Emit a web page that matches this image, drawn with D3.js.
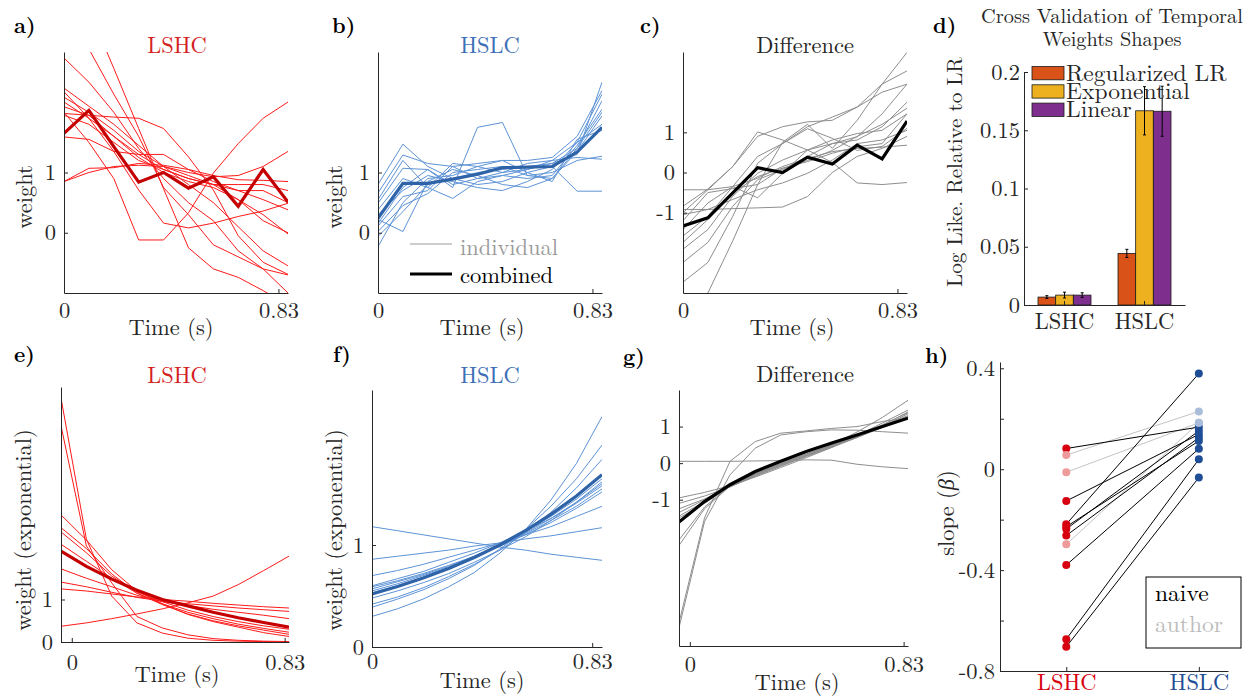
<!DOCTYPE html>
<html>
<head>
<meta charset="utf-8">
<script src="https://cdn.jsdelivr.net/npm/d3@7"></script>
<style>
  body { margin: 0; background: #fff; }
</style>
</head>
<body>
<script>
// time bins (s) for the weight panels
var timesTop = [0, 0.0963, 0.1927, 0.289, 0.3853, 0.4817, 0.578, 0.6743, 0.7707, 0.867];
var timesBottom = [-0.042, 0.057, 0.156, 0.254, 0.353, 0.452, 0.551, 0.649, 0.748, 0.847];

// a) LSHC regularized weights
var lshcWeights = [
  [2.9, 2.5, 2.0, 1.4, 0.9, 0.5, 0.2, -0.3, -0.6, -1.0],
  [3.6, 3.05, 2.3, 1.6, 0.75, 0.3, -0.2, -0.4, -0.6, -0.7],
  [4.5, 3.7, 2.73, 1.73, 0.73, -0.25, -0.6, -0.74, -0.96, -1.2],
  [2.0, 1.5, 0.9, -0.12, -0.12, 0.33, 0.99, 1.48, 1.9, 2.17],
  [0.85, 1.0, 1.1, 1.12, 1.1, 1.0, 0.93, 0.95, 1.1, 1.35],
  [0.85, 1.07, 1.08, 1.15, 1.12, 1.05, 0.95, 0.88, 0.87, 0.85],
  [2.34, 1.9, 1.35, 0.71, 0.16, 0.08, 0.16, 0.27, 0.36, 0.49],
  [1.98, 1.95, 1.92, 1.9, 1.73, 1.26, 0.71, -0.05, -0.49, -0.69],
  [2.25, 2.0, 1.7, 1.35, 1.1, 0.95, 0.8, 0.55, 0.2, 0.0],
  [2.17, 1.9, 1.6, 1.3, 1.05, 0.9, 0.8, 0.7, 0.55, 0.38],
  [2.09, 1.95, 1.6, 1.25, 1.0, 0.85, 0.75, 0.55, 0.3, -0.02],
  [1.59, 1.55, 1.35, 1.3, 1.3, 1.05, 0.85, 0.7, 0.7, 0.5],
  [2.4, 2.1, 1.8, 1.45, 1.1, 0.8, 0.5, 0.1, -0.3, -0.55],
  [1.95, 1.8, 1.5, 1.2, 1.05, 0.9, 0.8, 0.8, 0.8, 0.7]
];
var lshcCombined = [1.65, 2.03, 1.43, 0.84, 1.0, 0.74, 0.93, 0.44, 1.05, 0.51];

// b) HSLC regularized weights
var hslcWeights = [
  [0.8, 1.47, 1.1, 0.9, 1.0, 1.05, 1.1, 1.15, 1.3, 2.5],
  [0.66, 1.29, 1.15, 1.1, 1.15, 1.2, 1.2, 1.25, 1.6, 2.36],
  [0.49, 1.07, 1.05, 0.75, 1.75, 1.83, 0.95, 0.9, 1.4, 2.19],
  [0.38, 0.9, 0.75, 0.57, 0.85, 0.95, 0.9, 0.95, 1.45, 2.05],
  [0.22, 0.02, 0.85, 1.05, 0.95, 0.8, 0.75, 0.9, 1.35, 1.94],
  [0.11, 0.6, 0.7, 1.1, 0.9, 1.0, 1.05, 1.2, 1.5, 1.8],
  [0.02, 0.45, 0.65, 1.0, 1.05, 1.1, 0.95, 1.0, 1.2, 1.27],
  [-0.06, 0.35, 0.8, 0.9, 0.8, 0.85, 1.0, 1.1, 0.69, 0.69],
  [-0.23, 0.5, 0.9, 0.95, 1.1, 1.0, 1.15, 1.2, 1.25, 1.22],
  [0.3, 0.7, 0.95, 0.85, 0.75, 0.7, 0.85, 1.05, 1.5, 2.3],
  [0.55, 1.2, 0.75, 1.15, 1.1, 1.2, 1.0, 0.85, 1.55, 1.7],
  [0.15, 0.75, 1.05, 0.8, 0.9, 0.95, 1.05, 1.15, 1.4, 2.0]
];
var hslcCombined = [0.24, 0.82, 0.82, 0.89, 0.97, 1.08, 1.09, 1.10, 1.34, 1.75];

// c) difference HSLC - LSHC
var diffWeights = [
  [-0.84, -0.41, 0.15, 1.01, 0.81, 0.56, 0.25, -0.26, -0.30, -0.25],
  [-2.73, -2.24, -1.09, 0.23, 0.72, 1.14, 1.38, 1.63, 2.0, 2.2],
  [-3.4, -3.0, -1.7, -0.3, 0.75, 1.2, 0.6, 1.3, 2.2, 2.99],
  [-0.92, -0.92, -0.9, -0.88, -0.86, -0.6, 0.0, 0.4, 0.6, 0.9],
  [-1.0, -0.43, -0.35, -0.63, -0.02, 0.56, 0.81, 0.97, 1.05, 1.46],
  [-1.58, -1.09, -0.35, 0.4, 0.72, 1.09, 0.85, 0.55, 0.65, 1.1],
  [-1.91, -1.42, -0.59, -0.02, 0.31, 0.56, 0.72, 0.81, 1.14, 1.75],
  [-2.24, -1.74, -0.84, -0.18, 0.07, 0.4, 0.72, 0.89, 1.46, 2.2],
  [-1.05, -0.92, -0.67, -0.43, -0.26, -0.02, 0.31, 0.72, 0.81, 1.05],
  [-1.74, -1.17, -0.51, -0.1, 0.11, 0.27, 0.48, 0.64, 0.72, 1.46],
  [-1.42, -0.76, -0.35, -0.14, 0.15, 0.35, 0.52, 0.6, 0.63, 0.68],
  [-0.43, -0.43, 0.15, 0.9, 1.14, 1.26, 1.3, 1.63, 2.2, 2.53],
  [-1.2, -0.5, -0.4, -0.3, 0.1, 0.3, 0.55, 0.9, 1.2, 1.6]
];
var diffCombined = [-1.33, -1.13, -0.51, 0.12, 0.0, 0.38, 0.21, 0.68, 0.34, 1.28];

// d) cross validation
var cvGroups = ["LSHC", "HSLC"];
var cvModels = ["Regularized LR", "Exponential", "Linear"];
var cvRegLR = [0.0068, 0.0443];
var cvExponential = [0.0085, 0.1667];
var cvLinear = [0.0085, 0.1663];
var cvRegLRErr = [0.0012, 0.0035];
var cvExponentialErr = [0.0025, 0.0207];
var cvLinearErr = [0.002, 0.0215];

// e) LSHC exponential fits
var lshcExp = [
  [5.74, 2.42, 1.08, 0.45, 0.21, 0.09, 0.04, 0.02, 0.01, 0.0],
  [5.09, 2.26, 1.39, 0.6, 0.33, 0.17, 0.08, 0.04, 0.02, 0.01],
  [2.99, 2.4, 1.7, 1.2, 0.9, 0.65, 0.48, 0.35, 0.22, 0.13],
  [2.69, 2.2, 1.6, 1.15, 0.88, 0.66, 0.5, 0.38, 0.28, 0.18],
  [2.59, 2.1, 1.55, 1.18, 0.95, 0.75, 0.6, 0.48, 0.38, 0.3],
  [1.72, 1.5, 1.3, 1.1, 0.95, 0.86, 0.77, 0.7, 0.63, 0.55],
  [1.41, 1.3, 1.17, 1.05, 0.96, 0.9, 0.85, 0.8, 0.76, 0.72],
  [1.25, 1.2, 1.13, 1.06, 1.0, 0.96, 0.91, 0.87, 0.83, 0.8],
  [0.37, 0.45, 0.55, 0.66, 0.78, 0.92, 1.08, 1.35, 1.68, 2.02],
  [2.3, 1.9, 1.5, 1.15, 0.9, 0.7, 0.55, 0.42, 0.32, 0.23]
];
var lshcExpCombined = [2.14, 1.78, 1.48, 1.22, 1.0, 0.85, 0.7, 0.57, 0.46, 0.35];

// f) HSLC exponential fits
var hslcExp = [
  [0.30, 0.375, 0.47, 0.59, 0.73, 0.92, 1.15, 1.44, 1.80, 2.26],
  [0.39, 0.47, 0.56, 0.67, 0.80, 0.96, 1.15, 1.38, 1.65, 1.98],
  [0.42, 0.49, 0.58, 0.69, 0.81, 0.95, 1.12, 1.32, 1.56, 1.84],
  [0.48, 0.55, 0.63, 0.72, 0.83, 0.95, 1.08, 1.24, 1.42, 1.62],
  [0.55, 0.62, 0.70, 0.78, 0.88, 0.99, 1.12, 1.26, 1.42, 1.60],
  [0.57, 0.64, 0.71, 0.79, 0.89, 0.99, 1.11, 1.24, 1.38, 1.55],
  [0.59, 0.65, 0.72, 0.80, 0.89, 0.99, 1.10, 1.22, 1.36, 1.52],
  [0.60, 0.67, 0.74, 0.83, 0.92, 1.02, 1.14, 1.26, 1.41, 1.58],
  [0.70, 0.75, 0.81, 0.88, 0.95, 1.02, 1.10, 1.18, 1.28, 1.38],
  [0.86, 0.89, 0.92, 0.95, 0.99, 1.02, 1.06, 1.09, 1.13, 1.17],
  [1.18, 1.14, 1.10, 1.06, 1.02, 0.98, 0.95, 0.91, 0.88, 0.85],
  [0.53, 0.60, 0.68, 0.77, 0.88, 0.99, 1.13, 1.28, 1.45, 1.65]
];
var hslcExpCombined = [0.52, 0.593, 0.676, 0.77, 0.878, 1.0, 1.14, 1.3, 1.48, 1.69];

// g) difference of exponential fits
var diffExp = [
  [0.05, 0.05, 0.05, 0.06, 0.07, 0.09, 0.08, -0.03, -0.1, -0.15],
  [-4.5, -1.6, -0.32, 0.41, 0.77, 0.86, 0.91, 0.9, 0.86, 0.82],
  [-4.36, -1.5, 0.05, 0.59, 0.82, 0.88, 0.95, 1.0, 1.14, 1.23],
  [-0.95, -0.8, -0.62, -0.38, -0.12, 0.15, 0.43, 0.75, 1.1, 1.45],
  [-1.1, -0.9, -0.65, -0.36, -0.08, 0.2, 0.5, 0.85, 1.25, 1.72],
  [-1.25, -0.98, -0.65, -0.33, -0.05, 0.22, 0.48, 0.75, 1.05, 1.38],
  [-1.45, -1.05, -0.62, -0.3, -0.02, 0.25, 0.5, 0.75, 1.02, 1.3],
  [-2.1, -1.2, -0.62, -0.28, 0.0, 0.25, 0.48, 0.72, 0.98, 1.25],
  [-2.25, -1.25, -0.63, -0.3, -0.03, 0.22, 0.45, 0.7, 0.98, 1.28],
  [-1.5, -1.1, -0.64, -0.34, -0.08, 0.18, 0.43, 0.7, 1.0, 1.35],
  [-1.35, -1.0, -0.6, -0.3, -0.05, 0.2, 0.45, 0.72, 1.03, 1.4]
];
var diffExpCombined = [-1.61, -1.05, -0.59, -0.23, 0.05, 0.32, 0.55, 0.77, 1.0, 1.23];

// h) slopes per subject
var slopeLSHC = [0.082, 0.056, -0.012, -0.126, -0.218, -0.228, -0.237, -0.263, -0.298, -0.38, -0.674, -0.704];
var slopeHSLC = [0.167, 0.229, 0.184, 0.138, 0.379, 0.112, 0.152, 0.125, 0.184, 0.081, 0.039, -0.033];
var subjectType = ["naive", "author", "author", "naive", "naive", "naive", "naive", "naive", "author", "naive", "naive", "naive"];

// pick a serif face if one is installed (canvas width test), else DejaVu Sans
function hasFont(name) {
  var ctx = document.createElement("canvas").getContext("2d");
  var s = "mmmmmmmmmmlli WwQ 0.83 Time";
  ctx.font = "72px monospace";
  var base = ctx.measureText(s).width;
  ctx.font = '72px "' + name + '", monospace';
  return ctx.measureText(s).width !== base;
}
var serifCandidates = ["Latin Modern Roman", "CMU Serif", "Liberation Serif", "DejaVu Serif",
  "Noto Serif", "Tinos", "Nimbus Roman", "FreeSerif", "Times New Roman", "Georgia"];
var fontName = serifCandidates.find(hasFont) || "DejaVu Sans";
var FONT = '"' + fontName + '", serif';

// size the text so that "Time (s)" is as wide as in the figure (about 85 px)
var measureCtx = document.createElement("canvas").getContext("2d");
measureCtx.font = '100px ' + FONT;
var FS = Math.max(17, Math.min(26, 85 * 100 / measureCtx.measureText("Time (s)").width));
var K = FS / 21;

var AXIS = "#262626";

var svg = d3.select("body").append("svg")
  .attr("width", 1253)
  .attr("height", 696)
  .style("font-family", FONT);

function fmt(d) { return String(d); }

function addText(sel, size) {
  return sel.style("font-family", FONT).style("font-size", size + "px");
}

function styleAxis(g) {
  g.select(".domain").attr("stroke", AXIS).attr("stroke-width", 1);
  g.selectAll(".tick line").attr("stroke", AXIS);
  g.selectAll(".tick text").style("font-size", FS + "px")
    .style("font-family", FONT).attr("fill", AXIS);
}

// generic weight-over-time panel
function drawLinePanel(o) {
  var x = d3.scaleLinear().domain(o.xDomain).range([o.left, o.right]);
  var y = d3.scaleLinear().domain(o.yDomain).range([o.bottom, o.top]);

  svg.append("clipPath").attr("id", "clip-" + o.id)
    .append("rect")
    .attr("x", o.left).attr("y", o.top)
    .attr("width", o.right - o.left).attr("height", o.bottom - o.top);

  var line = d3.line()
    .x(function(d, i) { return x(o.times[i]); })
    .y(function(d) { return y(d); });

  var plot = svg.append("g").attr("clip-path", "url(#clip-" + o.id + ")");
  plot.selectAll("path.ind")
    .data(o.ind)
    .enter()
    .append("path")
    .attr("class", "ind")
    .attr("d", line)
    .attr("fill", "none")
    .attr("stroke", o.indColor)
    .attr("stroke-width", 1);
  plot.append("path")
    .datum(o.comb)
    .attr("d", line)
    .attr("fill", "none")
    .attr("stroke", o.combColor)
    .attr("stroke-width", 3.2)
    .attr("stroke-linejoin", "miter");

  svg.append("g")
    .attr("transform", "translate(" + o.left + ",0)")
    .call(d3.axisLeft(y).tickValues(o.yTicks).tickFormat(fmt).tickSize(-4).tickSizeOuter(0).tickPadding(8))
    .call(styleAxis);

  svg.append("g")
    .attr("transform", "translate(0," + o.bottom + ")")
    .call(d3.axisBottom(x).tickValues([0, 0.83]).tickFormat(fmt).tickSize(-4).tickSizeOuter(0).tickPadding(o.xPad))
    .call(styleAxis);

  addText(svg.append("text"), FS)
    .attr("x", o.titleX).attr("y", o.titleY)
    .attr("text-anchor", "middle")
    .attr("fill", o.titleColor)
    .text(o.title);

  addText(svg.append("text"), FS)
    .attr("x", o.xLabelX).attr("y", o.xLabelY)
    .attr("text-anchor", "middle")
    .attr("fill", AXIS)
    .text("Time (s)");

  if (o.ylabel) {
    addText(svg.append("text"), FS)
      .attr("transform", "translate(" + o.ylabelX + "," + o.ylabelY + ") rotate(-90)")
      .attr("text-anchor", "middle")
      .attr("fill", AXIS)
      .text(o.ylabel);
  }
}

var RED = "#ff1a1a", RED_DARK = "#c40000", RED_TITLE = "#d41f1f";
var BLUE = "#5d93d6", BLUE_DARK = "#2f63a8", BLUE_TITLE = "#3d6fb6";
var GREY = "#8e8e8e";

drawLinePanel({ id: "a", left: 64, right: 288, top: 52, bottom: 293,
  xDomain: [0, 0.867], yDomain: [-1, 3], yTicks: [0, 1], times: timesTop,
  ind: lshcWeights, comb: lshcCombined, indColor: RED, combColor: RED_DARK,
  title: "LSHC", titleColor: RED_TITLE, titleX: 177, titleY: 53,
  xPad: 9, xLabelX: 171, xLabelY: 335, ylabel: "weight", ylabelX: 32, ylabelY: 197 });

drawLinePanel({ id: "b", left: 378, right: 602, top: 52, bottom: 293,
  xDomain: [0, 0.867], yDomain: [-1, 3], yTicks: [0, 1], times: timesTop,
  ind: hslcWeights, comb: hslcCombined, indColor: BLUE, combColor: BLUE_DARK,
  title: "HSLC", titleColor: BLUE_TITLE, titleX: 490, titleY: 53,
  xPad: 9, xLabelX: 482, xLabelY: 335, ylabel: "weight", ylabelX: 342, ylabelY: 197 });

drawLinePanel({ id: "c", left: 683, right: 907, top: 52, bottom: 293,
  xDomain: [0, 0.867], yDomain: [-3, 3], yTicks: [-1, 0, 1], times: timesTop,
  ind: diffWeights, comb: diffCombined, indColor: GREY, combColor: "#000",
  title: "Difference", titleColor: AXIS, titleX: 805, titleY: 53,
  xPad: 9, xLabelX: 792, xLabelY: 335 });

drawLinePanel({ id: "e", left: 61, right: 289, top: 387, bottom: 642,
  xDomain: [-0.042, 0.847], yDomain: [0, 6], yTicks: [0, 1], times: timesBottom,
  ind: lshcExp, comb: lshcExpCombined, indColor: RED, combColor: RED_DARK,
  title: "LSHC", titleColor: RED_TITLE, titleX: 177, titleY: 383,
  xPad: 12, xLabelX: 177, xLabelY: 682, ylabel: "weight (exponential)", ylabelX: 31, ylabelY: 530 });

drawLinePanel({ id: "f", left: 372, right: 602, top: 390, bottom: 647,
  xDomain: [0, 0.867], yDomain: [0, 2.52], yTicks: [0, 1], times: timesTop,
  ind: hslcExp, comb: hslcExpCombined, indColor: BLUE, combColor: BLUE_DARK,
  title: "HSLC", titleColor: BLUE_TITLE, titleX: 490, titleY: 383,
  xPad: 6, xLabelX: 482, xLabelY: 688, ylabel: "weight (exponential)", ylabelX: 342, ylabelY: 530 });

drawLinePanel({ id: "g", left: 679, right: 908, top: 390, bottom: 646,
  xDomain: [-0.042, 0.847], yDomain: [-5, 2], yTicks: [-1, 0, 1], times: timesBottom,
  ind: diffExp, comb: diffExpCombined, indColor: GREY, combColor: "#000",
  title: "Difference", titleColor: AXIS, titleX: 805, titleY: 382,
  xPad: 10, xLabelX: 797, xLabelY: 690 });

// legend in b
var legB = svg.append("g");
legB.append("line").attr("x1", 410).attr("x2", 452).attr("y1", 244).attr("y2", 244)
  .attr("stroke", "#9a9a9a").attr("stroke-width", 1);
addText(legB.append("text"), FS).attr("x", 460).attr("y", 255)
  .attr("fill", "#9a9a9a").text("individual");
legB.append("line").attr("x1", 410).attr("x2", 452).attr("y1", 274).attr("y2", 274)
  .attr("stroke", "#000").attr("stroke-width", 3);
addText(legB.append("text"), FS).attr("x", 460).attr("y", 283)
  .attr("fill", "#000").text("combined");

// ---- d) bar chart ----
(function() {
  var left = 1024, right = 1185, top = 72, bottom = 305;
  var colors = ["#D95319", "#EDB120", "#7E2F8E"];
  var values = [cvRegLR, cvExponential, cvLinear];
  var errs = [cvRegLRErr, cvExponentialErr, cvLinearErr];
  var x0 = d3.scaleBand().domain(cvGroups).range([left, right]).paddingInner(0.3375).paddingOuter(0.175);
  var x1 = d3.scaleBand().domain(cvModels).range([0, x0.bandwidth()]);
  var y = d3.scaleLinear().domain([0, 0.2]).range([bottom, top]);

  var rows = [];
  cvGroups.forEach(function(grp, gi) {
    cvModels.forEach(function(m, mi) {
      rows.push({ grp: grp, model: m, value: values[mi][gi], err: errs[mi][gi], color: colors[mi] });
    });
  });

  svg.append("g").selectAll("rect")
    .data(rows)
    .enter()
    .append("rect")
    .attr("x", function(d) { return x0(d.grp) + x1(d.model); })
    .attr("y", function(d) { return y(d.value); })
    .attr("width", x1.bandwidth())
    .attr("height", function(d) { return y(0) - y(d.value); })
    .attr("fill", function(d) { return d.color; })
    .attr("stroke", "#1a1a1a")
    .attr("stroke-width", 0.8);

  svg.append("g")
    .attr("transform", "translate(" + left + ",0)")
    .call(d3.axisLeft(y).tickValues([0, 0.05, 0.1, 0.15, 0.2]).tickFormat(fmt).tickSize(-4).tickSizeOuter(0).tickPadding(4))
    .call(styleAxis);
  svg.append("g")
    .attr("transform", "translate(0," + bottom + ")")
    .call(d3.axisBottom(x0).tickSize(-4).tickSizeOuter(0).tickPadding(8))
    .call(styleAxis);

  // legend (no box; the text runs under the error bars as in the figure)
  var leg = svg.append("g");
  cvModels.forEach(function(m, i) {
    leg.append("rect").attr("x", 1032).attr("y", 66.5 + i * 18.3)
      .attr("width", 32).attr("height", 13.3)
      .attr("fill", colors[i]).attr("stroke", "#1a1a1a").attr("stroke-width", 0.8);
    addText(leg.append("text"), 22 * K).attr("x", 1066).attr("y", 80.5 + i * 18.3)
      .attr("fill", AXIS).text(m);
  });

  var eb = svg.append("g");
  rows.forEach(function(d) {
    var cx = x0(d.grp) + x1(d.model) + x1.bandwidth() / 2;
    eb.append("line").attr("x1", cx).attr("x2", cx)
      .attr("y1", y(d.value - d.err)).attr("y2", y(d.value + d.err))
      .attr("stroke", "#000").attr("stroke-width", 1);
    [d.value - d.err, d.value + d.err].forEach(function(v) {
      eb.append("line").attr("x1", cx - 1.5).attr("x2", cx + 1.5)
        .attr("y1", y(v)).attr("y2", y(v)).attr("stroke", "#000");
    });
  });

  addText(svg.append("text"), 19 * K).attr("x", 1112).attr("y", 23).attr("text-anchor", "middle")
    .attr("fill", AXIS).text("Cross Validation of Temporal");
  addText(svg.append("text"), 19 * K).attr("x", 1112).attr("y", 46).attr("text-anchor", "middle")
    .attr("fill", AXIS).text("Weights Shapes");
  addText(svg.append("text"), 19.7 * K)
    .attr("transform", "translate(962,172) rotate(-90)")
    .attr("text-anchor", "middle")
    .attr("fill", AXIS)
    .text("Log Like. Relative to LR");
})();

// ---- h) slopes ----
(function() {
  var left = 1000, right = 1228, top = 362, bottom = 671;
  var x = d3.scaleLinear().domain([0.5, 2.22]).range([left, right]);
  var y = d3.scaleLinear().domain([-0.8, 0.425]).range([bottom, top]);
  var lineCol = { naive: "#000", author: "#c4c4c4" };
  var lshcCol = { naive: "#d7000f", author: "#ee9a9a" };
  var hslcCol = { naive: "#1f4e96", author: "#a9bddb" };

  var pairs = slopeLSHC.map(function(v, i) {
    return { a: v, b: slopeHSLC[i], type: subjectType[i] };
  });
  // author lines first so naive ones sit on top
  var ordered = pairs.filter(function(p) { return p.type === "author"; })
    .concat(pairs.filter(function(p) { return p.type === "naive"; }));

  svg.append("g").selectAll("line")
    .data(ordered)
    .enter()
    .append("line")
    .attr("x1", x(1)).attr("x2", x(2))
    .attr("y1", function(d) { return y(d.a); })
    .attr("y2", function(d) { return y(d.b); })
    .attr("stroke", function(d) { return lineCol[d.type]; })
    .attr("stroke-width", 1);

  var pts = svg.append("g");
  pts.selectAll("circle.l")
    .data(pairs)
    .enter()
    .append("circle")
    .attr("cx", x(1)).attr("cy", function(d) { return y(d.a); })
    .attr("r", 4)
    .attr("fill", function(d) { return lshcCol[d.type]; });
  pts.selectAll("circle.h")
    .data(pairs)
    .enter()
    .append("circle")
    .attr("cx", x(2)).attr("cy", function(d) { return y(d.b); })
    .attr("r", 4)
    .attr("fill", function(d) { return hslcCol[d.type]; });

  svg.append("g")
    .attr("transform", "translate(" + left + ",0)")
    .call(d3.axisLeft(y).tickValues([-0.8, -0.6, -0.4, -0.2, 0, 0.2, 0.4])
      .tickFormat(function(d) { return [-0.8, -0.4, 0, 0.4].indexOf(d) >= 0 ? String(d) : ""; })
      .tickSize(-4).tickSizeOuter(0).tickPadding(5))
    .call(styleAxis);

  var xAxis = svg.append("g")
    .attr("transform", "translate(0," + bottom + ")")
    .call(d3.axisBottom(x).tickValues([1, 2])
      .tickFormat(function(d) { return d === 1 ? "LSHC" : "HSLC"; })
      .tickSize(-4).tickSizeOuter(0).tickPadding(3))
    .call(styleAxis);
  xAxis.selectAll(".tick text").attr("fill", function(d) { return d === 1 ? "#d7000f" : "#1f4e96"; });

  addText(svg.append("text"), FS)
    .attr("transform", "translate(954,513) rotate(-90)")
    .attr("text-anchor", "middle")
    .attr("fill", AXIS)
    .html('slope (<tspan font-style="italic">β</tspan>)');

  var leg = svg.append("g");
  leg.append("rect").attr("x", 1146).attr("y", 577).attr("width", 95).attr("height", 71)
    .attr("fill", "#fff").attr("stroke", "#000").attr("stroke-width", 1);
  addText(leg.append("text"), 22 * K).attr("x", 1155).attr("y", 601)
    .attr("fill", "#000").text("naive");
  addText(leg.append("text"), 22 * K).attr("x", 1155).attr("y", 632)
    .attr("fill", "#bdbdbd").text("author");
})();

// panel letters
var panelLetters = ["a)", "b)", "c)", "d)", "e)", "f)", "g)", "h)"];
var letterPos = [[14, 33], [332, 33], [640, 33], [933, 33], [14, 362], [333, 362], [623, 364], [925, 363]];
addText(svg.append("g").selectAll("text")
  .data(panelLetters)
  .enter()
  .append("text"), 20 * K)
  .attr("x", function(d, i) { return letterPos[i][0]; })
  .attr("y", function(d, i) { return letterPos[i][1]; })
  .style("font-weight", "bold")
  .attr("fill", "#000")
  .text(function(d) { return d; });
</script>
</body>
</html>
